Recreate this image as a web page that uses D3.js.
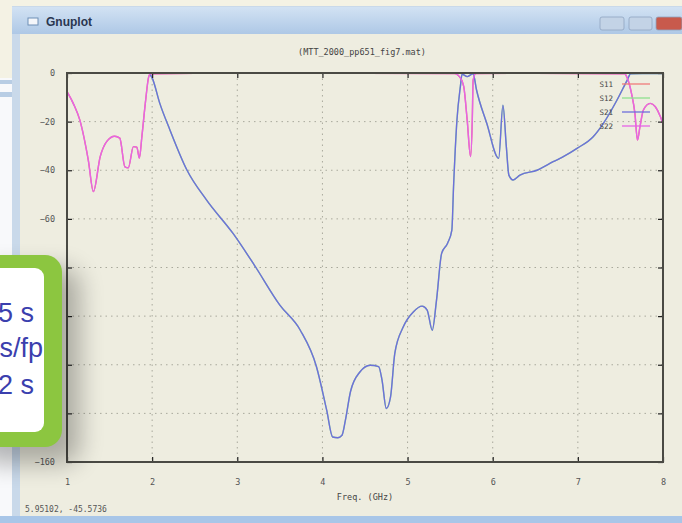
<!DOCTYPE html>
<html>
<head>
<meta charset="utf-8">
<script src="https://cdn.jsdelivr.net/npm/d3@7"></script>
<style>
  html, body { margin: 0; padding: 0; background: #f4f2e4; overflow: hidden; }
  svg { display: block; }
  .tick text { font-family: "DejaVu Sans Mono", monospace; font-size: 8.5px; fill: #555; }
</style>
</head>
<body>
<div id="chart-area"></div>
<script>
/***** Data *****/
const xTicks = [1, 2, 3, 4, 5, 6, 7, 8];
const yTicks = [0, -20, -40, -60, -80, -100, -120, -140, -160];

// S21 (blue) – frequency in GHz, magnitude in dB
const s21Freq = [1.97, 2.0, 2.09, 2.21, 2.41, 2.64, 2.95, 3.2, 3.5, 3.74, 3.93, 4.05, 4.12, 4.18, 4.23, 4.27,
  4.33, 4.44, 4.56, 4.66, 4.70, 4.75, 4.80, 4.85, 4.95, 5.07, 5.17, 5.23, 5.29, 5.34, 5.40, 5.47, 5.52,
  5.54, 5.58, 5.62, 5.64, 5.70, 5.77, 5.81, 5.93, 6.07, 6.12, 6.16, 6.19, 6.24, 6.32, 6.52, 6.71,
  6.85, 6.99, 7.18, 7.30, 7.46, 7.58, 7.62, 8.0];
const s21Db = [-0.3, -2, -12.5, -23.5, -40, -52.3, -66, -79, -95.5, -105.8, -120.8, -138.7, -149.7, -150, -149, -142.8,
  -131, -123, -120.2, -120.8, -126.3, -138, -133.2, -115.3, -104.4, -98.2, -95.9, -97.5, -105.8, -93.4, -74.2, -70, -64.6,
  -46.8, -19.3, -5.6, -0.5, -1.5, -0.3, -7, -20.7, -35.1, -13.2, -30.3, -42, -44, -42, -40, -36.5,
  -34, -31, -26.2, -20.7, -11.1, -2.9, -0.3, -0.2];

// S22 (magenta)
const s22Freq = [1.0, 1.08, 1.15, 1.25, 1.31, 1.39, 1.47, 1.56, 1.62, 1.68, 1.72, 1.78, 1.82, 1.85, 1.88, 1.92,
  1.96, 1.98, 2.5, 3.5, 4.5, 5.55, 5.62, 5.66, 5.70, 5.74, 5.76, 5.77, 5.8, 6.5, 7.55, 7.58, 7.63, 7.67,
  7.70, 7.73, 7.77, 7.85, 7.91, 7.97, 8.0];
const s22Db = [-7.7, -13, -19.3, -35.8, -48.8, -34.4, -28, -26, -26.8, -38.6, -39, -30.3, -30.5, -35, -26, -12.4,
  -1.5, -0.3, -0.1, -0.1, -0.1, -0.2, -2, -5.6, -19.3, -34.4, -19.3, -3, -0.2, -0.1, -0.3, -2, -8.4, -16.6,
  -27.6, -22, -15.2, -12.5, -13.9, -18, -21];

// symmetric network: S12 = S21, S11 = S22 (they lie underneath)
const seriesNames  = ["S11", "S12", "S21", "S22"];
const seriesColors = ["#f07a7a", "#8fe08f", "#6e6edc", "#e664e6"];
const seriesFreq   = [s22Freq, s21Freq, s21Freq, s22Freq];
const seriesDb     = [s22Db, s21Db, s21Db, s22Db];

const boxLines = ["5 s", "s/fp", "2 s"];

/***** Layout *****/
const W = 682, H = 523;
const plot = { left: 67, right: 663, top: 73, bottom: 462 };

const svg = d3.select("#chart-area").append("svg")
  .attr("width", W).attr("height", H);

const defs = svg.append("defs");
defs.append("clipPath").attr("id", "plotclip")
  .append("rect").attr("x", plot.left).attr("y", plot.top)
  .attr("width", plot.right - plot.left).attr("height", plot.bottom - plot.top);
const tg = defs.append("linearGradient").attr("id", "titlebar").attr("x1", 0).attr("x2", 0).attr("y1", 0).attr("y2", 1);
tg.append("stop").attr("offset", "0%").attr("stop-color", "#d2e2f3");
tg.append("stop").attr("offset", "100%").attr("stop-color", "#aec8e6");
defs.append("filter").attr("id", "shadow").attr("x", "-50%").attr("y", "-50%").attr("width", "200%").attr("height", "200%")
  .append("feGaussianBlur").attr("stdDeviation", 12);

/***** Desktop & window chrome *****/
svg.append("rect").attr("width", W).attr("height", H).attr("fill", "#f4f2e4");
// window behind, on the far left
svg.append("rect").attr("x", 0).attr("y", 78).attr("width", 13).attr("height", 445).attr("fill", "#f8f9fb");
svg.append("rect").attr("x", 0).attr("y", 80).attr("width", 13).attr("height", 4).attr("fill", "#b8cde4");
svg.append("rect").attr("x", 0).attr("y", 92).attr("width", 13).attr("height", 5).attr("fill", "#b8cde4");

// gnuplot window
svg.append("rect").attr("x", 12).attr("y", 6).attr("width", W - 12).attr("height", H - 6).attr("fill", "#c9d9ea");
svg.append("rect").attr("x", 12).attr("y", 7).attr("width", W - 12).attr("height", 27).attr("fill", "url(#titlebar)");
svg.append("rect").attr("x", 20).attr("y", 34).attr("width", W - 20).attr("height", 482).attr("fill", "#eeede0");
svg.append("rect").attr("x", 0).attr("y", 516).attr("width", W).attr("height", 7).attr("fill", "#a8c6e8");

svg.append("rect").attr("x", 28).attr("y", 18).attr("width", 10).attr("height", 7)
  .attr("fill", "#f4f6fa").attr("stroke", "#6f8fb6");
svg.append("text").attr("x", 46).attr("y", 26).text("Gnuplot")
  .attr("font-family", "Liberation Sans, Arial, sans-serif").attr("font-weight", "bold")
  .attr("font-size", 12).attr("fill", "#2a3650");

// caption buttons
[[600, 24, "#c3d3e6"], [629, 23, "#c3d3e6"], [656, 26, "#c85a4c"]].forEach(([x, w, c]) => {
  svg.append("rect").attr("x", x).attr("y", 17).attr("width", w).attr("height", 13).attr("rx", 2)
    .attr("fill", c).attr("stroke", "#8fa5c0").attr("stroke-width", 0.8);
});

/***** Scales *****/
const xScale = d3.scaleLinear().domain([1, 8]).range([plot.left, plot.right]);
const yScale = d3.scaleLinear().domain([-160, 0]).range([plot.bottom, plot.top]);

/***** Grid *****/
const grid = svg.append("g").attr("stroke", "#a9a99c").attr("stroke-width", 1).attr("stroke-dasharray", "1.5,4");
grid.selectAll("line.gx").data(xTicks.slice(1, -1)).join("line")
  .attr("x1", d => xScale(d)).attr("x2", d => xScale(d))
  .attr("y1", plot.top).attr("y2", plot.bottom);
grid.selectAll("line.gy").data(yTicks.slice(1, -1)).join("line")
  .attr("y1", d => yScale(d)).attr("y2", d => yScale(d))
  .attr("x1", plot.left).attr("x2", plot.right);

/***** Curves *****/
const line = d3.line().curve(d3.curveMonotoneX)
  .x(d => xScale(d[0])).y(d => yScale(d[1]));
const curves = svg.append("g").attr("clip-path", "url(#plotclip)");
seriesNames.forEach((name, i) => {
  const pts = seriesFreq[i].map((f, j) => [f, seriesDb[i][j]]);
  curves.append("path").datum(pts)
    .attr("fill", "none").attr("stroke", seriesColors[i]).attr("stroke-width", 1.4)
    .attr("d", line);
});

/***** Axes (gnuplot style: inward ticks, mirrored) *****/
function styleAxis(g) {
  g.select(".domain").remove();
  g.selectAll(".tick line").attr("stroke", "#222").attr("stroke-width", 1.2);
}
svg.append("g").attr("transform", `translate(${plot.left},0)`)
  .call(d3.axisLeft(yScale).tickValues(yTicks).tickSize(-5).tickPadding(12).tickFormat(d3.format("d")))
  .call(styleAxis);
svg.append("g").attr("transform", `translate(${plot.right},0)`)
  .call(d3.axisRight(yScale).tickValues(yTicks).tickSize(-5).tickFormat(""))
  .call(styleAxis);
svg.append("g").attr("transform", `translate(0,${plot.bottom})`)
  .call(d3.axisBottom(xScale).tickValues(xTicks).tickSize(-5).tickPadding(17).tickFormat(d3.format("d")))
  .call(styleAxis);
svg.append("g").attr("transform", `translate(0,${plot.top})`)
  .call(d3.axisTop(xScale).tickValues(xTicks).tickSize(-5).tickFormat(""))
  .call(styleAxis);

svg.append("rect").attr("x", plot.left).attr("y", plot.top)
  .attr("width", plot.right - plot.left).attr("height", plot.bottom - plot.top)
  .attr("fill", "none").attr("stroke", "#4a4a44").attr("stroke-width", 2);

/***** Texts *****/
const mono = "DejaVu Sans Mono, monospace";
svg.append("text").attr("x", 362).attr("y", 55).attr("text-anchor", "middle")
  .attr("font-family", mono).attr("font-size", 8.5).attr("fill", "#444")
  .text("(MTT_2000_pp651_fig7.mat)");
svg.append("text").attr("x", 365).attr("y", 500).attr("text-anchor", "middle")
  .attr("font-family", mono).attr("font-size", 8.5).attr("fill", "#444")
  .text("Freq. (GHz)");
svg.append("text").attr("transform", `translate(43,${(plot.top + plot.bottom) / 2}) rotate(-90)`)
  .attr("text-anchor", "middle")
  .attr("font-family", mono).attr("font-size", 8.5).attr("fill", "#444")
  .text("dB");
svg.append("text").attr("x", 25).attr("y", 512)
  .attr("font-family", mono).attr("font-size", 8).attr("fill", "#555")
  .text("5.95102, -45.5736");

/***** Legend *****/
const legend = svg.append("g").attr("font-family", mono).attr("font-size", 7.5).attr("fill", "#444");
seriesNames.forEach((name, i) => {
  const y = 84 + i * 14;
  legend.append("text").attr("x", 613).attr("y", y + 3).attr("text-anchor", "end").text(name);
  legend.append("line").attr("x1", 622).attr("x2", 650).attr("y1", y).attr("y2", y)
    .attr("stroke", seriesColors[i]).attr("stroke-width", 1.3);
});

/***** Overlaid green call-out box *****/
svg.append("rect").attr("x", -20).attr("y", 268).attr("width", 100).attr("height", 196).attr("rx", 18)
  .attr("fill", "#000").attr("opacity", 0.28).attr("filter", "url(#shadow)");
svg.append("rect").attr("x", -40).attr("y", 255).attr("width", 102).attr("height", 192).attr("rx", 17)
  .attr("fill", "#8cc640");
svg.append("rect").attr("x", -40).attr("y", 268).attr("width", 84).attr("height", 164).attr("rx", 9)
  .attr("fill", "#ffffff");
svg.append("g").selectAll("text").data(boxLines).join("text")
  .attr("x", (d, i) => i === 1 ? 43 : 34)
  .attr("y", (d, i) => [322, 357, 394][i])
  .attr("text-anchor", "end")
  .attr("font-family", "Liberation Sans, Arial, sans-serif").attr("font-size", 27)
  .attr("fill", "#3b3fae")
  .text(d => d);
</script>
</body>
</html>
